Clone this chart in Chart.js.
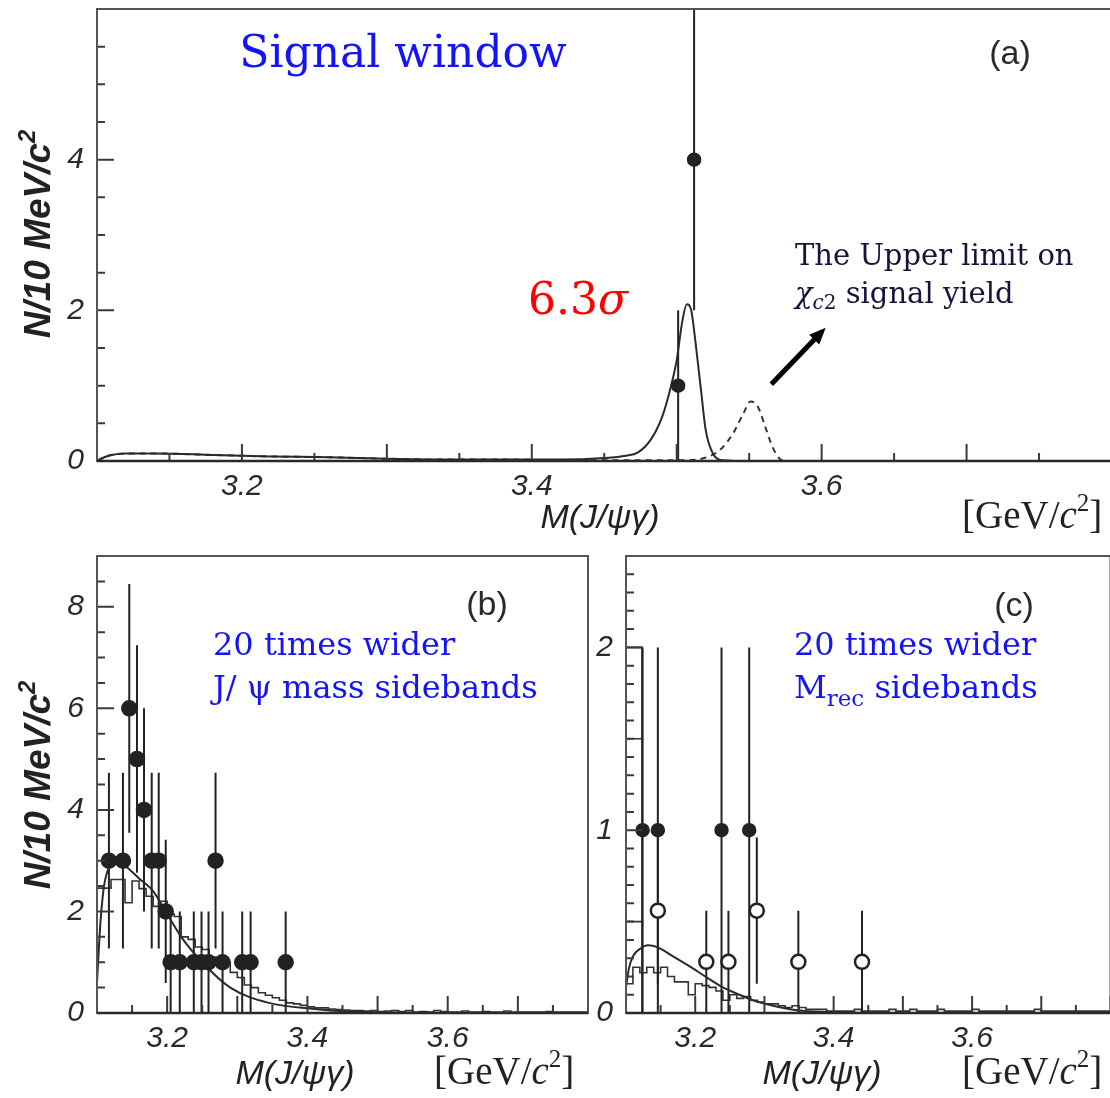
<!DOCTYPE html>
<html>
<head>
<meta charset="utf-8">
<script src="https://cdn.jsdelivr.net/npm/chart.js@4.4.0/dist/chart.umd.min.js"></script>
<style>
html, body { margin: 0; padding: 0; background: #fff; overflow: hidden; width: 1110px; height: 1098px; }
canvas { position: absolute; }
#grafico-a { left: 0; top: 0; }
#grafico-b { left: 0; top: 545px; }
#grafico-c { left: 580px; top: 545px; }
</style>
</head>
<body>
<canvas id="grafico-a" width="1120" height="545"></canvas>
<canvas id="grafico-b" width="600" height="553"></canvas>
<canvas id="grafico-c" width="540" height="553"></canvas>
<script>

// ---- panel (a): ventana de señal ----
const aPuntosX = [3.501, 3.512];
const aPuntosY = [1, 4];
const aErrores = [1, 2];
const aAjusteX = [3.100, 3.105, 3.110, 3.120, 3.140, 3.180, 3.220, 3.260, 3.300, 3.340, 3.380, 3.420, 3.450, 3.465, 3.473, 3.482, 3.490, 3.496, 3.500, 3.504, 3.507, 3.510, 3.513, 3.517, 3.520, 3.525, 3.532, 3.545, 3.560];
const aAjusteY = [0.00, 0.05, 0.08, 0.10, 0.10, 0.08, 0.06, 0.05, 0.03, 0.02, 0.02, 0.02, 0.04, 0.07, 0.11, 0.28, 0.59, 0.99, 1.34, 1.87, 2.08, 2.00, 1.57, 0.90, 0.41, 0.10, 0.01, 0.00, 0.00];
const aLimiteX = [3.100, 3.105, 3.110, 3.120, 3.140, 3.180, 3.220, 3.260, 3.300, 3.340, 3.380, 3.420, 3.460, 3.505, 3.519, 3.530, 3.539, 3.546, 3.551, 3.556, 3.561, 3.566, 3.571, 3.576, 3.600];
const aLimiteY = [0.00, 0.05, 0.08, 0.10, 0.10, 0.08, 0.06, 0.05, 0.03, 0.02, 0.02, 0.01, 0.01, 0.01, 0.04, 0.15, 0.37, 0.63, 0.79, 0.72, 0.46, 0.19, 0.03, 0.00, 0.00];

// ---- panel (b): bandas laterales de J/psi ----
const bPuntosX = [3.117, 3.137, 3.146, 3.157, 3.167, 3.178, 3.188, 3.198, 3.205, 3.218, 3.238, 3.249, 3.259, 3.269, 3.279, 3.307, 3.319, 3.369];
const bPuntosY = [3, 3, 6, 5, 4, 3, 3, 2, 1, 1, 1, 1, 1, 3, 1, 1, 1, 1];
const bErrores = [1.73, 1.73, 2.45, 2.24, 2.0, 1.73, 1.73, 1.41, 1, 1, 1, 1, 1, 1.73, 1, 1, 1, 1];
const bHistoInicio = 3.10;
const bHistoAncho = 0.01;
const bHisto = [1.9, 2.46, 2.46, 2.63, 2.63, 2.17, 2.6, 2.45, 2.3, 2.1,
                2.2, 1.95, 1.9, 1.5, 1.45, 1.3, 1.25, 1.1, 1.0, 1.0,
                0.8, 0.7, 0.55, 0.5, 0.4, 0.35, 0.3, 0.25, 0.2, 0.18,
                0.15, 0.12, 0.1, 0.1, 0.08, 0.07, 0.06, 0.05, 0.05, 0.04,
                0.05, 0.03, 0.04, 0.05, 0.03, 0.05, 0.02, 0.03, 0.02, 0.05,
                0.03, 0.02, 0.02, 0.04, 0.02, 0.02, 0.03, 0.02, 0.02, 0.04,
                0.02, 0.02, 0.02, 0.02, 0.02, 0.03, 0.02, 0.02, 0.02, 0.02];
const bAjusteX = [3.100, 3.105, 3.110, 3.118, 3.128, 3.140, 3.160, 3.180, 3.200, 3.220, 3.250, 3.290, 3.345, 3.410, 3.460, 3.520, 3.600, 3.800];
const bAjusteY = [0.6, 1.8, 2.5, 2.9, 3.0, 2.9, 2.65, 2.4, 1.95, 1.5, 1.0, 0.5, 0.2, 0.08, 0.03, 0.01, 0.0, 0.0];

// ---- panel (c): bandas laterales de M_rec ----
const cLlenosX = [3.124, 3.146, 3.238, 3.278];
const cLlenosY = [1, 1, 1, 1];
const cLlenosErr = [1, 1, 1, 1];
const cAbiertosX = [3.146, 3.216, 3.248, 3.289, 3.349, 3.441];
const cAbiertosY = [0.56, 0.28, 0.28, 0.56, 0.28, 0.28];
const cAbiertosErr = [0.40, 0.28, 0.28, 0.40, 0.28, 0.28];
const cHistoInicio = 3.10;
const cHistoAncho = 0.01;
const cHisto = [0.17, 0.16, 0.25, 0.22, 0.25, 0.22, 0.25, 0.2, 0.17, 0.17,
                0.1, 0.16, 0.15, 0.14, 0.12, 0.07, 0.1, 0.08, 0.09, 0.07,
                0.06, 0.05, 0.05, 0.04, 0.03, 0.04, 0.03, 0.02, 0.02, 0.02,
                0.01, 0.01, 0.01, 0.01, 0.02, 0.01, 0.01, 0.01, 0.01, 0.02,
                0.01, 0.01, 0.02, 0.01, 0.01, 0.01, 0.02, 0.01, 0.01, 0.01,
                0.01, 0.02, 0.01, 0.01, 0.01, 0.01, 0.01, 0.01, 0.01, 0.01,
                0.02, 0.01, 0.01, 0.01, 0.01, 0.01, 0.01, 0.01, 0.01, 0.01];
const cCajaX = [3.100, 3.123, 3.123, null, 3.100, 3.123, null, 3.100, 3.123];
const cCajaY = [2.0, 2.0, 0.0, null, 1.5, 1.5, null, 0.5, 0.5];
const cAjusteX = [3.100, 3.104, 3.110, 3.120, 3.132, 3.145, 3.168, 3.192, 3.216, 3.240, 3.264, 3.288, 3.317, 3.355, 3.400, 3.450, 3.800];
const cAjusteY = [0.14, 0.24, 0.31, 0.35, 0.37, 0.36, 0.31, 0.255, 0.196, 0.14, 0.10, 0.064, 0.036, 0.012, 0.004, 0.0, 0.0];

const AZUL = '#1414f5';
const TINTA = '#222';

function puntos(xs, ys) {
    return xs.map((x, i) => ({ x: x, y: ys[i] }));
}

function barrasError(xs, ys, errs) {
    const out = [];
    xs.forEach((x, i) => {
        out.push({ x: x, y: Math.max(0, ys[i] - errs[i]) });
        out.push({ x: x, y: ys[i] + errs[i] });
        out.push({ x: x, y: null });
    });
    return out;
}

function histograma(inicio, ancho, vals) {
    const out = vals.map((v, i) => ({ x: inicio + i * ancho, y: v }));
    out.push({ x: inicio + vals.length * ancho, y: vals[vals.length - 1] });
    return out;
}

function esMayor(v, paso) {
    const r = v / paso;
    return Math.abs(r - Math.round(r)) < 1e-6;
}

function textoRico(ctx, x, y, partes, align) {
    let ancho = 0;
    partes.forEach(p => { ctx.font = p.f; ancho += ctx.measureText(p.t).width; });
    let cx = align === 'center' ? x - ancho / 2 : x;
    partes.forEach(p => {
        ctx.font = p.f;
        ctx.fillStyle = p.c;
        ctx.fillText(p.t, cx, y + (p.dy || 0));
        cx += ctx.measureText(p.t).width;
    });
}

// marco y marcas hacia dentro
const marcoPlugin = {
    id: 'marco',
    afterDatasetsDraw(chart, args, op) {
        const ctx = chart.ctx;
        const a = chart.chartArea;
        const x = chart.scales.x;
        const y = chart.scales.y;
        ctx.save();
        ctx.strokeStyle = '#3a3a3a';
        ctx.lineWidth = 2;
        ctx.beginPath();
        x.ticks.forEach(t => {
            const px = x.getPixelForValue(t.value);
            const largo = esMayor(t.value, op.xMayor) ? 17 : 8;
            ctx.moveTo(px, a.bottom);
            ctx.lineTo(px, a.bottom - largo);
        });
        y.ticks.forEach(t => {
            const py = y.getPixelForValue(t.value);
            const largo = esMayor(t.value, op.yMayor) ? 17 : 8;
            ctx.moveTo(a.left, py);
            ctx.lineTo(a.left + largo, py);
        });
        ctx.stroke();
        ctx.strokeStyle = '#555';
        ctx.strokeRect(a.left, a.top, a.right - a.left, a.bottom - a.top);
        ctx.lineWidth = 2.5;
        ctx.strokeStyle = '#2a2a2a';
        ctx.beginPath();
        ctx.moveTo(a.left, a.bottom);
        ctx.lineTo(a.right, a.bottom);
        ctx.stroke();
        ctx.restore();
    }
};

// textos, títulos de ejes y flecha
const textosPlugin = {
    id: 'textos',
    afterDraw(chart, args, op) {
        const ctx = chart.ctx;
        ctx.save();
        ctx.textBaseline = 'alphabetic';
        (op.lista || []).forEach(t => {
            if (t.rot) {
                ctx.save();
                ctx.translate(t.x, t.y);
                ctx.rotate(-Math.PI / 2);
                textoRico(ctx, 0, 0, t.partes, t.align);
                ctx.restore();
            } else {
                textoRico(ctx, t.x, t.y, t.partes, t.align);
            }
        });
        if (op.flecha) {
            const f = op.flecha;
            const x0 = chart.scales.x.getPixelForValue(f.x0);
            const y0 = chart.scales.y.getPixelForValue(f.y0);
            const x1 = chart.scales.x.getPixelForValue(f.x1);
            const y1 = chart.scales.y.getPixelForValue(f.y1);
            const ang = Math.atan2(y1 - y0, x1 - x0);
            const cabeza = 18;
            ctx.strokeStyle = '#000';
            ctx.fillStyle = '#000';
            ctx.lineWidth = 5;
            ctx.beginPath();
            ctx.moveTo(x0, y0);
            ctx.lineTo(x1 - cabeza * 0.7 * Math.cos(ang), y1 - cabeza * 0.7 * Math.sin(ang));
            ctx.stroke();
            ctx.beginPath();
            ctx.moveTo(x1, y1);
            ctx.lineTo(x1 - cabeza * Math.cos(ang - 0.4), y1 - cabeza * Math.sin(ang - 0.4));
            ctx.lineTo(x1 - cabeza * Math.cos(ang + 0.4), y1 - cabeza * Math.sin(ang + 0.4));
            ctx.closePath();
            ctx.fill();
        }
        ctx.restore();
    }
};

const fuenteTicks = { family: 'Liberation Sans', size: 30, style: 'italic' };

function opciones(p) {
    return {
        responsive: false,
        animation: false,
        layout: { padding: p.padding },
        plugins: {
            legend: { display: false },
            tooltip: { enabled: false },
            marco: { xMayor: 0.1, yMayor: p.yMayor },
            textos: { lista: p.textos, flecha: p.flecha }
        },
        elements: { point: { hitRadius: 0 } },
        scales: {
            x: {
                type: 'linear',
                min: 3.1,
                max: 3.8,
                grid: { display: false },
                border: { display: false },
                ticks: {
                    stepSize: 0.05,
                    autoSkip: false,
                    maxRotation: 0,
                    padding: 0,
                    color: '#2a2a2a',
                    font: fuenteTicks,
                    callback: v => (esMayor(v, 0.2) && v < 3.79) ? v.toFixed(1) : ''
                },
                afterFit: s => { s.height = p.altoX; s.paddingLeft = 0; s.paddingRight = 0; }
            },
            y: {
                min: 0,
                max: p.yMax,
                grid: { display: false },
                border: { display: false },
                ticks: {
                    stepSize: p.yPaso,
                    autoSkip: false,
                    padding: 5,
                    color: '#2a2a2a',
                    font: fuenteTicks,
                    callback: v => (esMayor(v, p.yMayor) && v < p.yMax - 1e-6) ? String(Math.round(v)) : ''
                },
                afterFit: s => { s.width = p.anchoY; s.paddingTop = 0; s.paddingBottom = 0; }
            }
        }
    };
}

function tituloY(cx, cy) {
    return {
        x: cx, y: cy, rot: true, align: 'center',
        partes: [
            { t: 'N/10 MeV/', f: 'italic bold 37px "Liberation Sans"', c: TINTA, dy: 13 },
            { t: 'c', f: 'italic bold 37px "Liberation Sans"', c: TINTA, dy: 13 },
            { t: '2', f: 'italic bold 24px "Liberation Sans"', c: TINTA, dy: -2 }
        ]
    };
}

function titulosX(cxM, xUnidad, base) {
    return [
        { x: cxM, y: base, align: 'center', partes: [{ t: 'M(J/ψγ)', f: 'italic 34px "Liberation Sans"', c: TINTA }] },
        { x: xUnidad, y: base, align: 'left', partes: [
            { t: '[GeV/', f: '39px "Liberation Serif"', c: TINTA },
            { t: 'c', f: 'italic 39px "Liberation Serif"', c: TINTA },
            { t: '2', f: '25px "Liberation Serif"', c: TINTA, dy: -17 },
            { t: ']', f: '39px "Liberation Serif"', c: TINTA }
        ] }
    ];
}

function lineaCurva(datos, extra) {
    return Object.assign({
        data: datos,
        borderColor: '#2a2a2a',
        borderWidth: 2,
        pointRadius: 0,
        cubicInterpolationMode: 'monotone',
        fill: false
    }, extra || {});
}

function lineaError(datos) {
    return {
        data: datos,
        borderColor: TINTA,
        borderWidth: 2,
        pointRadius: 0,
        spanGaps: false,
        fill: false,
        order: 3
    };
}

function lineaPasos(datos, orden) {
    return {
        data: datos,
        borderColor: '#333',
        borderWidth: 1.6,
        pointRadius: 0,
        stepped: 'after',
        spanGaps: false,
        fill: false,
        order: orden || 4
    };
}

function marcadores(datos, radio, relleno) {
    return {
        data: datos,
        showLine: false,
        pointRadius: radio,
        pointBackgroundColor: relleno,
        pointBorderColor: TINTA,
        pointBorderWidth: 2.5,
        order: 1
    };
}

// ---------- panel (a) ----------
new Chart(document.querySelector('#grafico-a'), {
    type: 'line',
    data: {
        datasets: [
            marcadores(puntos(aPuntosX, aPuntosY), 6, TINTA),
            lineaError(barrasError(aPuntosX, aPuntosY, aErrores)),
            lineaCurva(puntos(aAjusteX, aAjusteY), { order: 2 }),
            lineaCurva(puntos(aLimiteX, aLimiteY), { borderDash: [6, 5], borderColor: '#333', order: 5 })
        ]
    },
    options: opciones({
        padding: { top: 9, right: 4, left: 0, bottom: 0 },
        altoX: 84, anchoY: 97, yMax: 6, yPaso: 0.5, yMayor: 2,
        flecha: { x0: 3.5653, y0: 1.02, x1: 3.6028, y1: 1.77 },
        textos: [
            { x: 403, y: 67, align: 'center', partes: [{ t: 'Signal window', f: '44px "DejaVu Serif"', c: AZUL }] },
            { x: 1010, y: 64, align: 'center', partes: [{ t: '(a)', f: '34px "Liberation Sans"', c: '#2a2a2a' }] },
            { x: 528, y: 314, align: 'left', partes: [
                { t: '6.3', f: '44px "DejaVu Serif"', c: '#f00' },
                { t: 'σ', f: 'italic 44px "DejaVu Serif"', c: '#f00' }
            ] },
            { x: 795, y: 265, align: 'left', partes: [{ t: 'The Upper limit on', f: '29px "DejaVu Serif"', c: '#14143c' }] },
            { x: 795, y: 303, align: 'left', partes: [
                { t: 'χ', f: 'italic 29px "DejaVu Serif"', c: '#14143c' },
                { t: 'c', f: 'italic 20px "DejaVu Serif"', c: '#14143c', dy: 6 },
                { t: '2', f: '20px "DejaVu Serif"', c: '#14143c', dy: 6 },
                { t: ' signal yield', f: '29px "DejaVu Serif"', c: '#14143c' }
            ] },
            tituloY(37, 234)
        ].concat(titulosX(600, 962, 528))
    }),
    plugins: [marcoPlugin, textosPlugin]
});

// ---------- panel (b) ----------
new Chart(document.querySelector('#grafico-b'), {
    type: 'line',
    data: {
        datasets: [
            marcadores(puntos(bPuntosX, bPuntosY), 7, TINTA),
            lineaError(barrasError(bPuntosX, bPuntosY, bErrores)),
            lineaCurva(puntos(bAjusteX, bAjusteY), { order: 2 }),
            lineaPasos(histograma(bHistoInicio, bHistoAncho, bHisto))
        ]
    },
    options: opciones({
        padding: { top: 11, right: 12, left: 0, bottom: 0 },
        altoX: 85, anchoY: 97, yMax: 9, yPaso: 0.5, yMayor: 2,
        textos: [
            { x: 487, y: 70, align: 'center', partes: [{ t: '(b)', f: '34px "Liberation Sans"', c: '#2a2a2a' }] },
            { x: 213, y: 110, align: 'left', partes: [{ t: '20 times wider', f: '32px "DejaVu Serif"', c: AZUL }] },
            { x: 213, y: 153, align: 'left', partes: [{ t: 'J/ ψ mass sidebands', f: '32px "DejaVu Serif"', c: AZUL }] },
            tituloY(37, 240)
        ].concat(titulosX(295, 434, 539))
    }),
    plugins: [marcoPlugin, textosPlugin]
});

// ---------- panel (c) ----------
new Chart(document.querySelector('#grafico-c'), {
    type: 'line',
    data: {
        datasets: [
            marcadores(puntos(cLlenosX, cLlenosY), 6, TINTA),
            marcadores(puntos(cAbiertosX, cAbiertosY), 7, '#fff'),
            lineaError(barrasError(cLlenosX, cLlenosY, cLlenosErr)),
            lineaError(barrasError(cAbiertosX, cAbiertosY, cAbiertosErr)),
            lineaCurva(puntos(cAjusteX, cAjusteY), { order: 2 }),
            lineaPasos(histograma(cHistoInicio, cHistoAncho, cHisto)),
            lineaPasos(puntos(cCajaX, cCajaY).map(p => p.x === null ? { x: 3.1, y: null } : p), 4)
        ]
    },
    options: opciones({
        padding: { top: 11, right: 7, left: 0, bottom: 0 },
        altoX: 85, anchoY: 46, yMax: 2.5, yPaso: 0.1, yMayor: 1,
        textos: [
            { x: 434, y: 71, align: 'center', partes: [{ t: '(c)', f: '34px "Liberation Sans"', c: '#2a2a2a' }] },
            { x: 214, y: 110, align: 'left', partes: [{ t: '20 times wider', f: '32px "DejaVu Serif"', c: AZUL }] },
            { x: 214, y: 153, align: 'left', partes: [
                { t: 'M', f: '32px "DejaVu Serif"', c: AZUL },
                { t: 'rec', f: '23px "DejaVu Serif"', c: AZUL, dy: 8 },
                { t: ' sidebands', f: '32px "DejaVu Serif"', c: AZUL }
            ] }
        ].concat(titulosX(242, 382, 539))
    }),
    plugins: [marcoPlugin, textosPlugin]
});
</script>
</body>
</html>
